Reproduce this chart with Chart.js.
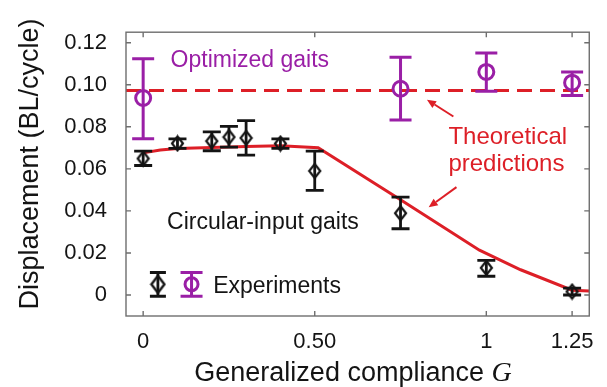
<!DOCTYPE html>
<html>
<head>
<meta charset="utf-8">
<script src="https://cdn.jsdelivr.net/npm/chart.js@4/dist/chart.umd.min.js"></script>
<style>
  html, body { margin: 0; padding: 0; background: #fff; }
  #wrap { width: 607px; height: 387px; }
</style>
</head>
<body>
<div id="wrap"><canvas id="chart"></canvas></div>
<script>
// ── Data ────────────────────────────────────────────
const circG    = [0, 0.1, 0.2, 0.25, 0.3, 0.4, 0.5, 0.75, 1.0, 1.25];
const circMean = [0.0649, 0.0721, 0.0732, 0.0751, 0.0747, 0.0720, 0.0590, 0.0389, 0.0129, 0.0016];
const circLow  = [0.0616, 0.0697, 0.0686, 0.0703, 0.0665, 0.0697, 0.0498, 0.0315, 0.0089, 0.0000];
const circHigh = [0.0684, 0.0743, 0.0776, 0.0802, 0.0829, 0.0743, 0.0684, 0.0465, 0.0165, 0.0033];

const optG    = [0, 0.75, 1.0, 1.25];
const optMean = [0.0937, 0.0981, 0.1061, 0.1010];
const optLow  = [0.0743, 0.0832, 0.0969, 0.0949];
const optHigh = [0.1124, 0.1131, 0.1151, 0.1061];

const theoryG = [0, 0.05, 0.1, 0.2, 0.3, 0.4, 0.51, 0.75, 0.98, 1.1, 1.25, 1.3];
const theoryY = [0.0676, 0.0690, 0.0697, 0.0702, 0.0706, 0.0710, 0.0700, 0.0453, 0.0213, 0.0120, 0.0023, 0.0019];

const optTheoryG = [-0.05, 1.3];
const optTheoryY = [0.0973, 0.0973];

const xTicks = [0, 0.5, 1, 1.25];
const xTickLabels = ['0', '0.50', '1', '1.25'];
const yTicks = [0, 0.02, 0.04, 0.06, 0.08, 0.10, 0.12];
const yTickLabels = ['0', '0.02', '0.04', '0.06', '0.08', '0.10', '0.12'];

// ── Styles ──────────────────────────────────────────
const BLACK = '#141414';
const PURPLE = '#9a1fa6';
const RED = '#dd1f27';
const FRAME = '#6e6e6e';
const FONT = "'Liberation Sans', Arial, sans-serif";

// annotations (data coords)
const notes = [
  { text: 'Optimized gaits', g: 0.080, d: 0.1084, color: PURPLE, size: 23 },
  { text: 'Theoretical', g: 0.8895, d: 0.0717, color: RED, size: 24 },
  { text: 'predictions', g: 0.8895, d: 0.0590, color: RED, size: 24 },
  { text: 'Circular-input gaits', g: 0.0698, d: 0.0314, color: BLACK, size: 23 },
  { text: 'Experiments', g: 0.2039, d: 0.0009, color: BLACK, size: 23 },
];
const arrows = [
  { from: [0.904, 0.0849], to: [0.827, 0.0929] },
  { from: [0.913, 0.0513], to: [0.832, 0.0417] },
];

function toXY(arr, ys) { return arr.map((g, i) => ({ x: g, y: ys[i] })); }

function makeDiamond(w, h, lw, color) {
  const c = document.createElement('canvas');
  c.width = w + 4; c.height = h + 4;
  const g = c.getContext('2d');
  g.strokeStyle = color; g.lineWidth = lw;
  const cx = c.width / 2, cy = c.height / 2;
  g.beginPath();
  g.moveTo(cx, cy - h / 2); g.lineTo(cx + w / 2, cy);
  g.lineTo(cx, cy + h / 2); g.lineTo(cx - w / 2, cy);
  g.closePath(); g.stroke();
  return c;
}

function errBar(ctx, x, yTop, yBot, half, color, lw) {
  ctx.save();
  ctx.strokeStyle = color; ctx.lineWidth = lw;
  ctx.beginPath();
  ctx.moveTo(x, yTop); ctx.lineTo(x, yBot);
  ctx.moveTo(x - half, yTop); ctx.lineTo(x + half, yTop);
  ctx.moveTo(x - half, yBot); ctx.lineTo(x + half, yBot);
  ctx.stroke();
  ctx.restore();
}

function drawBars(chart, gs, lo, hi, color, half, lw) {
  const { x, y } = chart.scales;
  gs.forEach((g, i) => {
    errBar(chart.ctx, x.getPixelForValue(g), y.getPixelForValue(hi[i]), y.getPixelForValue(lo[i]), half, color, lw);
  });
}

const decor = {
  id: 'decor',
  beforeDatasetDraw(chart, args) {
    if (args.index === 1) drawBars(chart, circG, circLow, circHigh, BLACK, 9, 2.8);
    if (args.index === 0) drawBars(chart, optG, optLow, optHigh, PURPLE, 11, 3);
  },
  afterDatasetsDraw(chart) {
    const { ctx, chartArea: a } = chart;
    const { x, y } = chart.scales;

    // frame + inward ticks on all sides
    ctx.save();
    ctx.strokeStyle = FRAME; ctx.lineWidth = 1.4;
    ctx.strokeRect(a.left, a.top, a.right - a.left, a.bottom - a.top);
    ctx.beginPath();
    xTicks.forEach(v => {
      const px = x.getPixelForValue(v);
      ctx.moveTo(px, a.bottom); ctx.lineTo(px, a.bottom - 5);
      ctx.moveTo(px, a.top); ctx.lineTo(px, a.top + 5);
    });
    yTicks.forEach(v => {
      const py = y.getPixelForValue(v);
      ctx.moveTo(a.left, py); ctx.lineTo(a.left + 5, py);
      ctx.moveTo(a.right, py); ctx.lineTo(a.right - 5, py);
    });
    ctx.stroke();
    ctx.restore();

    // arrows
    ctx.save();
    ctx.strokeStyle = RED; ctx.fillStyle = RED; ctx.lineWidth = 2;
    arrows.forEach(ar => {
      const x0 = x.getPixelForValue(ar.from[0]), y0 = y.getPixelForValue(ar.from[1]);
      const x1 = x.getPixelForValue(ar.to[0]), y1 = y.getPixelForValue(ar.to[1]);
      const ang = Math.atan2(y1 - y0, x1 - x0);
      const hl = 9, hw = 4;
      const bx = x1 - hl * Math.cos(ang), by = y1 - hl * Math.sin(ang);
      ctx.beginPath(); ctx.moveTo(x0, y0); ctx.lineTo(bx, by); ctx.stroke();
      ctx.beginPath();
      ctx.moveTo(x1, y1);
      ctx.lineTo(bx + hw * Math.sin(ang), by - hw * Math.cos(ang));
      ctx.lineTo(bx - hw * Math.sin(ang), by + hw * Math.cos(ang));
      ctx.closePath(); ctx.fill();
    });
    ctx.restore();

    // text notes
    ctx.save();
    ctx.textAlign = 'left'; ctx.textBaseline = 'alphabetic';
    notes.forEach(n => {
      ctx.font = `${n.size}px ${FONT}`;
      ctx.fillStyle = n.color;
      ctx.fillText(n.text, x.getPixelForValue(n.g), y.getPixelForValue(n.d));
    });
    ctx.restore();

    // legend glyphs
    const ly = y.getPixelForValue(0.0051);
    const lTop = y.getPixelForValue(0.0107), lBot = y.getPixelForValue(-0.0006);
    const lx1 = x.getPixelForValue(0.043), lx2 = x.getPixelForValue(0.141);
    errBar(ctx, lx1, lTop, lBot, 8, BLACK, 2.8);
    ctx.drawImage(legendDiamond, lx1 - legendDiamond.width / 2, ly - legendDiamond.height / 2);
    errBar(ctx, lx2, lTop, lBot, 11, PURPLE, 3);
    ctx.save();
    ctx.strokeStyle = PURPLE; ctx.lineWidth = 3;
    ctx.beginPath(); ctx.arc(lx2, ly, 6.5, 0, Math.PI * 2); ctx.stroke();
    ctx.restore();

    // axis titles
    ctx.save();
    ctx.fillStyle = BLACK;
    ctx.font = `27px ${FONT}`;
    ctx.textBaseline = 'alphabetic';
    ctx.translate(38, 164);
    ctx.rotate(-Math.PI / 2);
    ctx.textAlign = 'center';
    ctx.fillText('Displacement (BL/cycle)', 0, 0);
    ctx.restore();

    ctx.save();
    ctx.fillStyle = BLACK;
    ctx.textBaseline = 'alphabetic';
    ctx.textAlign = 'left';
    const main = 'Generalized compliance ';
    ctx.font = `27px ${FONT}`;
    const w1 = ctx.measureText(main).width;
    ctx.font = `italic 28px 'Liberation Serif', 'Times New Roman', serif`;
    const w2 = ctx.measureText('G').width;
    const startX = (193 + 513) / 2 - (w1 + w2) / 2;
    ctx.font = `27px ${FONT}`;
    ctx.fillText(main, startX, 381);
    ctx.font = `italic 28px 'Liberation Serif', 'Times New Roman', serif`;
    ctx.fillText('G', startX + w1, 381);
    ctx.restore();
  },
};

const diamond = makeDiamond(11, 14, 2.2, BLACK);
const legendDiamond = makeDiamond(13, 17, 2.4, BLACK);

new Chart(document.getElementById('chart'), {
  type: 'scatter',
  data: {
    datasets: [
      {
        label: 'Optimized gaits',
        data: toXY(optG, optMean),
        pointStyle: 'circle',
        pointRadius: 7.5,
        borderColor: PURPLE,
        backgroundColor: 'rgba(0,0,0,0)',
        borderWidth: 3,
        showLine: false,
      },
      {
        label: 'Circular-input gaits',
        data: toXY(circG, circMean),
        pointStyle: diamond,
        showLine: false,
      },
      {
        label: 'Theory',
        data: toXY(theoryG, theoryY),
        showLine: true,
        borderColor: RED,
        borderWidth: 3,
        pointRadius: 0,
        tension: 0,
      },
      {
        label: 'Theory (optimized)',
        data: toXY(optTheoryG, optTheoryY),
        showLine: true,
        borderColor: RED,
        borderWidth: 3,
        borderDash: [15, 8],
        pointRadius: 0,
      },
    ],
  },
  options: {
    responsive: true,
    maintainAspectRatio: false,
    animation: false,
    events: [],
    layout: { padding: { top: 9, right: 13, left: 0, bottom: 0 } },
    plugins: { legend: { display: false }, tooltip: { enabled: false } },
    scales: {
      x: {
        type: 'linear',
        min: -0.05,
        max: 1.3,
        afterBuildTicks: s => { s.ticks = xTicks.map(v => ({ value: v })); },
        afterFit: s => { s.height = 71; },
        grid: { display: false, drawTicks: false },
        border: { display: false },
        ticks: {
          autoSkip: false,
          maxRotation: 0,
          padding: 13,
          color: BLACK,
          font: { family: FONT, size: 22 },
          callback: (v, i) => xTickLabels[i],
        },
      },
      y: {
        type: 'linear',
        min: -0.01,
        max: 0.125,
        afterBuildTicks: s => { s.ticks = yTicks.map(v => ({ value: v })); },
        afterFit: s => { s.width = 126; },
        grid: { display: false, drawTicks: false },
        border: { display: false },
        ticks: {
          autoSkip: false,
          padding: 19,
          color: BLACK,
          font: { family: FONT, size: 22 },
          callback: (v, i) => yTickLabels[i],
        },
      },
    },
  },
  plugins: [decor],
});
</script>
</body>
</html>
